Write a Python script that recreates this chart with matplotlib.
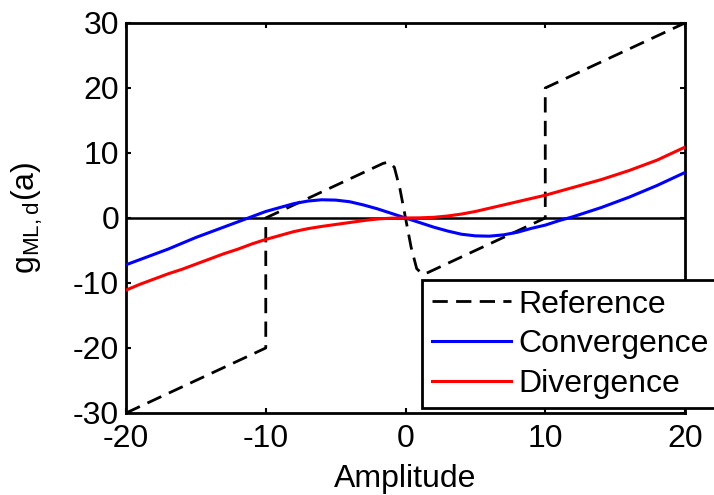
import matplotlib
matplotlib.use("Agg")
import matplotlib.pyplot as plt

plt.rcParams['font.family'] = ['Liberation Sans', 'DejaVu Sans']
plt.rcParams['mathtext.default'] = 'regular'
plt.rcParams['axes.unicode_minus'] = False

# Reference curve (dashed black)
ref_x = [-20, -10, -10, -1.6, -1.2, -0.8, -0.4, 0.0, 0.4, 0.8, 1.2, 1.6, 10, 10, 20]
ref_y = [-30, -20, 0.0, 8.4, 8.6, 7.8, 4.5, 0.0, -4.5, -7.8, -8.6, -8.4, 0.0, 20, 30]

# Convergence curve (blue)
conv_x = [-20, -19, -18, -17, -16, -15, -14, -13, -12, -11, -10, -9, -8, -7, -6,
          -5, -4, -3, -2, -1, 0, 1, 2, 3, 4, 5, 6, 7, 8, 9, 10, 11, 12, 13, 14,
          15, 16, 17, 18, 19, 20]
conv_y = [-7.2, -6.4, -5.6, -4.8, -3.9, -3.0, -2.2, -1.4, -0.6, 0.2, 1.0, 1.6,
          2.2, 2.6, 2.8, 2.75, 2.5, 2.0, 1.4, 0.7, 0.0, -0.7, -1.4, -2.0, -2.5,
          -2.75, -2.8, -2.6, -2.2, -1.6, -1.1, -0.4, 0.2, 0.9, 1.6, 2.4, 3.2,
          4.1, 5.0, 6.0, 7.0]

# Divergence curve (red)
div_x = [-20, -19, -18, -17, -16, -15, -14, -13, -12, -11, -10, -9, -8, -7, -6,
         -5, -4, -3, -2, -1, 0, 1, 2, 3, 4, 5, 6, 7, 8, 9, 10, 11, 12, 13, 14,
         15, 16, 17, 18, 19, 20]
div_y = [-11.1, -10.2, -9.4, -8.6, -7.9, -7.1, -6.3, -5.5, -4.8, -4.0, -3.3,
         -2.7, -2.1, -1.65, -1.3, -1.0, -0.7, -0.4, -0.15, -0.03, 0.0, 0.02,
         0.1, 0.3, 0.6, 1.0, 1.5, 2.0, 2.5, 3.0, 3.5, 4.1, 4.7, 5.3, 5.9, 6.6,
         7.3, 8.1, 8.9, 9.9, 10.9]

labels = ["Reference", "Convergence", "Divergence"]
x_ticks = [-20, -10, 0, 10, 20]
y_ticks = [-30, -20, -10, 0, 10, 20, 30]

fig = plt.figure(figsize=(7.14, 4.95), dpi=100)
ax = fig.add_axes([0.1765, 0.1657, 0.7829, 0.7879])

ax.axhline(0, color='black', lw=1.8, zorder=1)
ax.plot(ref_x, ref_y, color='black', lw=2.0, dashes=(5.5, 3), label=labels[0], zorder=2)
ax.plot(conv_x, conv_y, color='#0000ff', lw=2.2, label=labels[1], zorder=3)
ax.plot(div_x, div_y, color='#ff0000', lw=2.2, label=labels[2], zorder=3)

ax.set_xlim(-20, 20)
ax.set_ylim(-30, 30)
ax.set_xticks(x_ticks)
ax.set_yticks(y_ticks)
ax.tick_params(direction='in', length=3.5, width=1.5, top=True, right=True,
               labelsize=23)
ax.tick_params(axis='x', pad=8)
ax.tick_params(axis='y', pad=5)
for s in ax.spines.values():
    s.set_linewidth(2.0)

ax.set_xlabel("Amplitude", fontsize=23, labelpad=7)
ax.set_ylabel(r"g$_{ML,d}$(a)", fontsize=23, labelpad=20)

leg = ax.legend(loc='upper left', bbox_to_anchor=(0.5295, 0.341),
                borderaxespad=0, fontsize=23, frameon=True, fancybox=False,
                edgecolor='black', framealpha=1, handlelength=2.5,
                handletextpad=0.22, borderpad=0.3, labelspacing=0.3)
leg.get_frame().set_linewidth(2.0)

fig.savefig("out.png", dpi=100)
